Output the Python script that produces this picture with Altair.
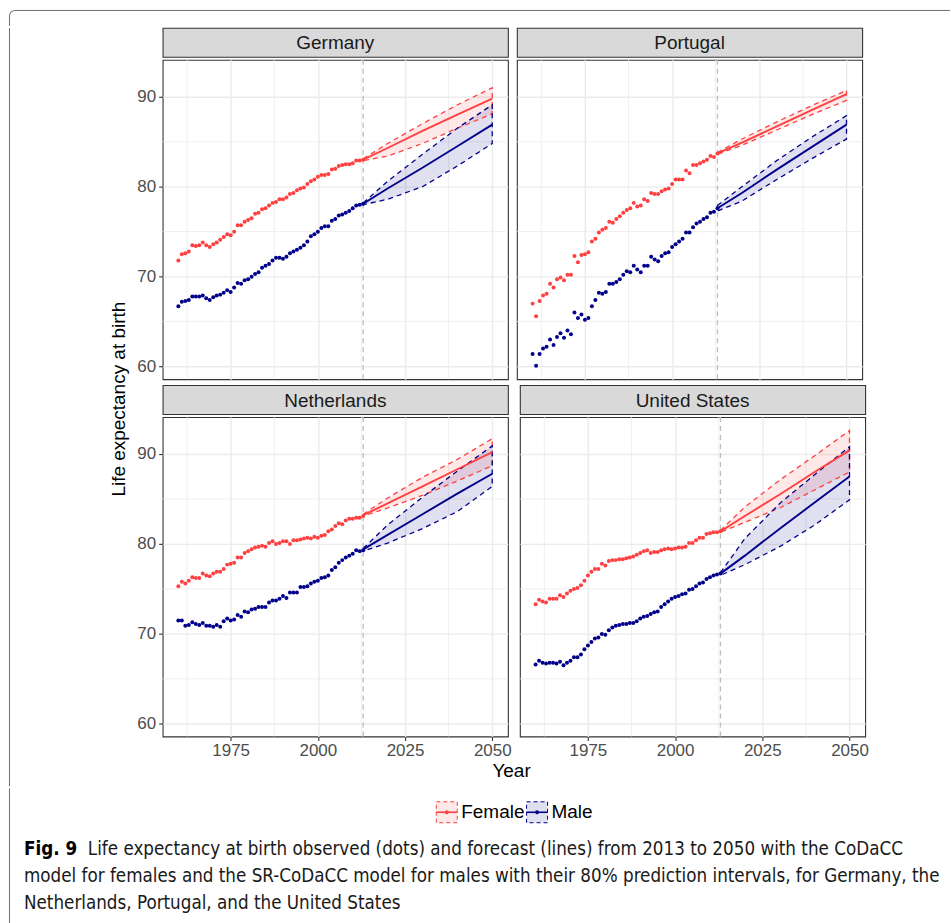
import altair as alt
import pandas as pd

FONT = "Liberation Sans"
CAPTION_FONT = "Liberation Sans Narrow, DejaVu Sans Condensed, Liberation Sans"
RED = "#FF4040"
BLUE = "#00008B"
GRID = "#EBEBEB"
DARK = "#333333"
BORDER = "#6E6E6E"

countries = ["Germany", "Portugal", "Netherlands", "United States"]
sexes = ["Female", "Male"]
obs_years = list(range(1960, 2014))
fc_years = [2013, 2020, 2030, 2040, 2050]
x_major = [1975, 2000, 2025, 2050]
x_minor = [1962.5, 1987.5, 2012.5, 2037.5]
y_major = [60, 70, 80, 90]
y_minor = [65, 75, 85]
forecast_origin = [2013]
x_domain = [1955.5, 2054.5]
y_domain = [58.6, 94.1]

y_title = "Life expectancy at birth"
x_title = "Year"
caption_label = "Fig. 9"
caption_lines = [
    "Life expectancy at birth observed (dots) and forecast (lines) from 2013 to 2050 with the CoDaCC",
    "model for females and the SR-CoDaCC model for males with their 80% prediction intervals, for Germany, the",
    "Netherlands, Portugal, and the United States",
]

# observed 1960-2013
germany_female = [71.8, 72.5, 72.6, 72.8, 73.5, 73.4, 73.5, 73.8, 73.5, 73.3,
                  73.6, 73.8, 74.1, 74.4, 74.7, 74.6, 75.0, 75.7, 75.7, 76.1,
                  76.3, 76.5, 77.0, 77.1, 77.5, 77.6, 77.9, 78.2, 78.3, 78.6,
                  78.6, 78.8, 79.2, 79.3, 79.6, 79.8, 79.9, 80.3, 80.6, 80.8,
                  81.1, 81.3, 81.3, 81.4, 81.9, 82.0, 82.3, 82.4, 82.5, 82.5,
                  82.6, 82.9, 82.9, 83.0]
germany_male = [66.7, 67.2, 67.3, 67.4, 67.8, 67.8, 67.8, 67.9, 67.6, 67.4,
                67.7, 67.9, 68.0, 68.2, 68.5, 68.3, 68.8, 69.3, 69.2, 69.6,
                69.7, 70.0, 70.3, 70.5, 71.0, 71.2, 71.4, 71.8, 72.1, 72.1,
                72.0, 72.2, 72.6, 72.8, 73.0, 73.2, 73.5, 73.9, 74.5, 74.7,
                75.0, 75.4, 75.6, 75.6, 76.2, 76.4, 76.8, 76.9, 77.1, 77.3,
                77.6, 77.9, 78.0, 78.1]
portugal_female = [67.0, 65.6, 67.3, 67.9, 68.1, 69.2, 68.8, 69.7, 69.9, 69.6,
                   70.2, 70.2, 72.3, 71.6, 72.4, 72.5, 72.7, 73.9, 74.2, 74.9,
                   75.2, 75.4, 76.1, 76.0, 76.4, 76.7, 77.1, 77.4, 77.6, 78.2,
                   77.8, 77.9, 78.6, 78.4, 79.3, 79.2, 79.2, 79.5, 79.7, 79.8,
                   80.3, 80.8, 80.8, 80.8, 81.8, 81.5, 82.4, 82.4, 82.6, 82.8,
                   83.0, 83.4, 83.3, 83.7]
portugal_male = [61.4, 60.1, 61.4, 62.0, 62.2, 63.0, 62.4, 63.3, 63.7, 63.2,
                 64.0, 63.6, 66.0, 65.4, 65.8, 65.2, 65.4, 66.7, 67.4, 68.2,
                 68.1, 68.3, 69.2, 69.2, 69.4, 69.7, 70.2, 70.6, 70.5, 71.2,
                 70.8, 70.5, 71.2, 71.2, 72.2, 71.9, 71.7, 72.3, 72.6, 72.7,
                 73.3, 73.6, 73.9, 74.2, 74.9, 74.9, 75.5, 75.9, 76.1, 76.4,
                 76.6, 77.1, 77.2, 77.6]
netherlands_female = [75.3, 75.8, 75.6, 75.9, 76.3, 76.2, 76.2, 76.7, 76.5, 76.4,
                      76.7, 76.9, 76.9, 77.2, 77.7, 77.8, 77.9, 78.5, 78.5, 79.0,
                      79.2, 79.4, 79.6, 79.7, 79.8, 79.7, 80.1, 80.3, 80.0, 80.1,
                      80.3, 80.3, 80.0, 80.4, 80.4, 80.5, 80.6, 80.7, 80.6, 80.8,
                      80.7, 80.9, 81.0, 81.4, 81.6, 82.0, 82.3, 82.2, 82.6, 82.8,
                      82.8, 82.9, 82.9, 83.1]
netherlands_male = [71.5, 71.5, 70.9, 71.0, 71.3, 71.1, 71.0, 71.2, 70.9, 70.9,
                    70.8, 71.0, 70.8, 71.4, 71.7, 71.5, 71.6, 72.1, 71.9, 72.5,
                    72.4, 72.7, 72.8, 73.0, 73.0, 73.0, 73.5, 73.7, 73.7, 73.9,
                    74.2, 74.0, 74.6, 74.6, 74.6, 75.2, 75.2, 75.3, 75.6, 75.8,
                    75.9, 76.2, 76.3, 76.5, 77.1, 77.4, 77.9, 78.2, 78.5, 78.7,
                    78.9, 79.3, 79.2, 79.3]
us_female = [73.3, 73.8, 73.6, 73.5, 73.9, 73.9, 73.9, 74.3, 74.1, 74.5,
             74.8, 75.0, 75.1, 75.4, 75.9, 76.5, 76.9, 77.2, 77.2, 77.8,
             77.6, 78.1, 78.2, 78.2, 78.3, 78.3, 78.4, 78.5, 78.6, 78.8,
             79.0, 79.2, 79.3, 79.0, 79.1, 79.1, 79.3, 79.4, 79.5, 79.4,
             79.5, 79.6, 79.6, 79.7, 80.1, 80.1, 80.4, 80.7, 80.7, 81.1,
             81.2, 81.3, 81.3, 81.4]
us_male = [66.6, 67.0, 66.8, 66.7, 66.8, 66.8, 66.7, 66.9, 66.5, 66.8,
           67.0, 67.4, 67.4, 67.7, 68.3, 68.7, 69.1, 69.5, 69.6, 70.0,
           69.9, 70.4, 70.7, 70.9, 71.0, 71.1, 71.1, 71.2, 71.2, 71.4,
           71.7, 71.9, 72.0, 72.2, 72.4, 72.5, 73.0, 73.3, 73.6, 73.9,
           74.1, 74.2, 74.4, 74.5, 74.9, 75.0, 75.3, 75.6, 75.7, 76.1,
           76.3, 76.5, 76.6, 76.7]

# forecasts at fc_years: mean, lower 80%, upper 80%
germany_female_fc = ([83.0, 84.3, 86.2, 88.0, 89.8], [82.9, 83.4, 84.8, 86.5, 88.1], [83.1, 84.8, 87.0, 89.1, 91.0])
germany_male_fc = ([78.1, 79.8, 82.1, 84.5, 86.9], [78.0, 78.6, 80.0, 82.3, 84.8], [78.2, 80.6, 83.6, 86.5, 89.1])
portugal_female_fc = ([83.7, 84.9, 86.7, 88.5, 90.3], [83.6, 84.6, 86.3, 88.0, 89.6], [83.8, 85.3, 87.2, 89.0, 90.7])
portugal_male_fc = ([77.6, 79.3, 81.9, 84.4, 86.9], [77.3, 78.4, 80.8, 83.1, 85.3], [77.9, 80.0, 82.9, 85.5, 87.9])
netherlands_female_fc = ([83.2, 84.5, 86.4, 88.3, 90.2], [83.1, 84.0, 85.4, 87.0, 88.7], [83.3, 85.1, 87.4, 89.4, 91.7])
netherlands_male_fc = ([79.4, 81.0, 83.3, 85.6, 87.8], [79.2, 80.1, 81.7, 83.6, 86.4], [79.5, 82.1, 85.2, 88.1, 90.9])
us_female_fc = ([81.4, 83.1, 85.5, 88.0, 90.4], [81.3, 82.4, 84.0, 86.0, 88.0], [81.5, 84.1, 87.1, 89.8, 92.6])
us_male_fc = ([76.7, 78.7, 81.7, 84.6, 87.5], [76.5, 77.7, 79.7, 82.1, 84.9], [76.8, 80.6, 84.5, 87.7, 90.8])

observed = {
    "Germany": {"Female": germany_female, "Male": germany_male},
    "Portugal": {"Female": portugal_female, "Male": portugal_male},
    "Netherlands": {"Female": netherlands_female, "Male": netherlands_male},
    "United States": {"Female": us_female, "Male": us_male},
}
forecast = {
    "Germany": {"Female": germany_female_fc, "Male": germany_male_fc},
    "Portugal": {"Female": portugal_female_fc, "Male": portugal_male_fc},
    "Netherlands": {"Female": netherlands_female_fc, "Male": netherlands_male_fc},
    "United States": {"Female": us_female_fc, "Male": us_male_fc},
}

obs_rows, fc_rows, path_rows = [], [], []
for c in countries:
    for s in sexes:
        vals = observed[c][s]
        assert len(vals) == len(obs_years), (c, s, len(vals))
        for yr, v in zip(obs_years, vals):
            obs_rows.append({"country": c, "sex": s, "year": yr, "value": v})
        mean, lo, hi = forecast[c][s]
        for yr, m, a, b in zip(fc_years, mean, lo, hi):
            fc_rows.append({"country": c, "sex": s, "year": yr, "mean": m, "lo": a, "hi": b})
        seq = list(zip(fc_years, hi)) + list(zip(fc_years[::-1], lo[::-1])) + [(fc_years[0], hi[0])]
        for i, (yr, v) in enumerate(seq):
            path_rows.append({"country": c, "sex": s, "year": yr, "value": v, "order": i})
obs_df = pd.DataFrame(obs_rows)
fc_df = pd.DataFrame(fc_rows)
path_df = pd.DataFrame(path_rows)

PW, PH, SH = 346, 320, 29
cscale = alt.Scale(domain=sexes, range=[RED, BLUE])
xscale = alt.Scale(domain=x_domain, nice=False, zero=False)
yscale = alt.Scale(domain=y_domain, nice=False, zero=False)


def panel(country, show_x, show_y):
    xax = alt.Axis(values=x_major, grid=True, gridColor=GRID, gridWidth=1.4,
                   labels=show_x, ticks=show_x, domain=False, title=None,
                   labelFont=FONT, labelFontSize=17, labelColor="#4D4D4D",
                   labelFlush=False, tickColor=DARK, tickSize=4, tickWidth=1.1,
                   labelPadding=2, format="d")
    yax = alt.Axis(values=y_major, grid=True, gridColor=GRID, gridWidth=1.4,
                   labels=show_y, ticks=show_y, domain=False, title=None,
                   labelFont=FONT, labelFontSize=17, labelColor="#4D4D4D",
                   labelFlush=False, tickColor=DARK, tickSize=4, tickWidth=1.1,
                   labelPadding=3, format="d")

    def X(f):
        return alt.X(f, type="quantitative", scale=xscale, axis=xax)

    def Y(f):
        return alt.Y(f, type="quantitative", scale=yscale, axis=yax)

    col = alt.Color("sex:N", scale=cscale, legend=None)
    o = obs_df[obs_df.country == country]
    f = fc_df[fc_df.country == country]
    p = path_df[path_df.country == country]

    xminor = alt.Chart(pd.DataFrame({"v": x_minor})).mark_rule(color=GRID, strokeWidth=0.8).encode(x=X("v"))
    yminor = alt.Chart(pd.DataFrame({"v": y_minor})).mark_rule(color=GRID, strokeWidth=0.8).encode(y=Y("v"))
    vline = alt.Chart(pd.DataFrame({"v": forecast_origin})).mark_rule(
        color="#BEBEBE", strokeWidth=1.3, strokeDash=[5, 4]).encode(x=X("v"))
    area = alt.Chart(f).mark_area(fillOpacity=0.12, strokeWidth=0).encode(
        x=X("year"), y=Y("lo"), y2="hi", fill=alt.Fill("sex:N", scale=cscale, legend=None))
    outline = alt.Chart(p).mark_line(strokeWidth=1.3, strokeDash=[5, 4]).encode(
        x=X("year"), y=Y("value"), color=col, order="order:Q")
    mean = alt.Chart(f).mark_line(strokeWidth=1.9).encode(x=X("year"), y=Y("mean"), color=col)
    pts = alt.Chart(o).mark_circle(size=16, opacity=1).encode(x=X("year"), y=Y("value"), color=col)

    plot = alt.layer(xminor, yminor, vline, area, outline, mean, pts).properties(
        width=PW, height=PH,
        view=alt.ViewBackground(fill="white", stroke=DARK, strokeWidth=1.1))
    strip = alt.Chart(pd.DataFrame({"label": [country]})).mark_text(
        font=FONT, fontSize=19, color="#1A1A1A", baseline="middle", align="center").encode(
        text="label:N", x=alt.value(PW / 2), y=alt.value(SH / 2 + 1)).properties(
        width=PW, height=SH,
        view=alt.ViewBackground(fill="#D9D9D9", stroke=DARK, strokeWidth=1.1))
    return alt.vconcat(strip, plot, spacing=0)


row1 = alt.hconcat(panel("Germany", False, True), panel("Portugal", False, False), spacing=7)
row2 = alt.hconcat(panel("Netherlands", True, True), panel("United States", True, False), spacing=7)
grid = alt.vconcat(row1, row2, spacing=3).properties(
    title=alt.TitleParams(x_title, orient="bottom", anchor="middle", font=FONT, fontSize=19,
                          fontWeight="normal", color="black", offset=3, dx=9))

one = pd.DataFrame({"t": [y_title]})

# top edge of the figure frame
top_h = alt.Chart(one).mark_rule(color=BORDER, strokeWidth=1).encode(
    x=alt.value(6), x2=alt.value(943), y=alt.value(0.5))
top_v = alt.Chart(one).mark_rule(color=BORDER, strokeWidth=1).encode(
    x=alt.value(0.5), y=alt.value(6), y2=alt.value(16))
corner = alt.Chart(one).mark_arc(radius=6, radius2=5, theta=4.712, theta2=6.283, color=BORDER).encode(
    x=alt.value(6), y=alt.value(6))
topline = alt.layer(top_h, top_v, corner).properties(width=943, height=16)

ytext = alt.Chart(one).mark_text(angle=270, font=FONT, fontSize=19, color="black",
                                 baseline="middle", align="center").encode(
    text="t:N", x=alt.value(110), y=alt.value(372))
border_v = alt.Chart(one).mark_rule(color=BORDER, strokeWidth=1).encode(
    x=alt.value(0.5), y=alt.value(0), y2=alt.value(760))
ytitle_chart = alt.layer(border_v, ytext).properties(width=120, height=700)

main = alt.hconcat(ytitle_chart, grid, spacing=6)

legend_df = pd.DataFrame({"sex": sexes})
lx = alt.X("sex:N", scale=alt.Scale(type="point", domain=sexes, range=[438.7, 529.2], padding=0), axis=None)
LY = 24
key_box = alt.Chart(legend_df).mark_point(shape="square", size=441, filled=False, opacity=1,
                                          strokeDash=[4, 3], strokeWidth=1, fillOpacity=0.12).encode(
    x=lx, y=alt.value(LY), stroke=alt.Stroke("sex:N", scale=cscale, legend=None),
    fill=alt.Fill("sex:N", scale=cscale, legend=None))
key_line = alt.Chart(legend_df).mark_point(shape="M-1,0L1,0", size=441, filled=False, opacity=1,
                                           strokeWidth=1.6).encode(
    x=lx, y=alt.value(LY), stroke=alt.Stroke("sex:N", scale=cscale, legend=None))
key_dot = alt.Chart(legend_df).mark_circle(size=16, opacity=1).encode(
    x=lx, y=alt.value(LY), color=alt.Color("sex:N", scale=cscale, legend=None))
key_text = alt.Chart(legend_df).mark_text(align="left", baseline="middle", dx=14.5, font=FONT,
                                          fontSize=19, color="black").encode(
    x=lx, y=alt.value(LY), text="sex:N")

CS = 18.7
border_v2 = alt.Chart(one).mark_rule(color=BORDER, strokeWidth=1).encode(
    x=alt.value(0.5), y=alt.value(0), y2=alt.value(140))
fig_label = alt.Chart(pd.DataFrame({"t": [caption_label]})).mark_text(
    align="left", baseline="middle", font=CAPTION_FONT, fontWeight="bold", fontSize=CS, color="black").encode(
    text="t:N", x=alt.value(15), y=alt.value(61))
cap_layers = []
for i, (xx, yy) in enumerate([(79, 61), (15, 88), (15, 115)]):
    cap_layers.append(alt.Chart(pd.DataFrame({"t": [caption_lines[i]]})).mark_text(
        align="left", baseline="middle", font=CAPTION_FONT, fontSize=CS, color="#1A1A1A").encode(
        text="t:N", x=alt.value(xx), y=alt.value(yy)))

bottom = alt.layer(border_v2, key_box, key_line, key_dot, key_text, fig_label, *cap_layers).properties(
    width=943, height=140)

chart = alt.vconcat(topline, main, bottom, spacing=0).properties(
    padding={"left": 8, "top": 8, "right": 0, "bottom": 0}
).configure(font=FONT).configure_view(stroke="transparent")

chart.save("out.html", embed_options={"renderer": "svg", "actions": False})
